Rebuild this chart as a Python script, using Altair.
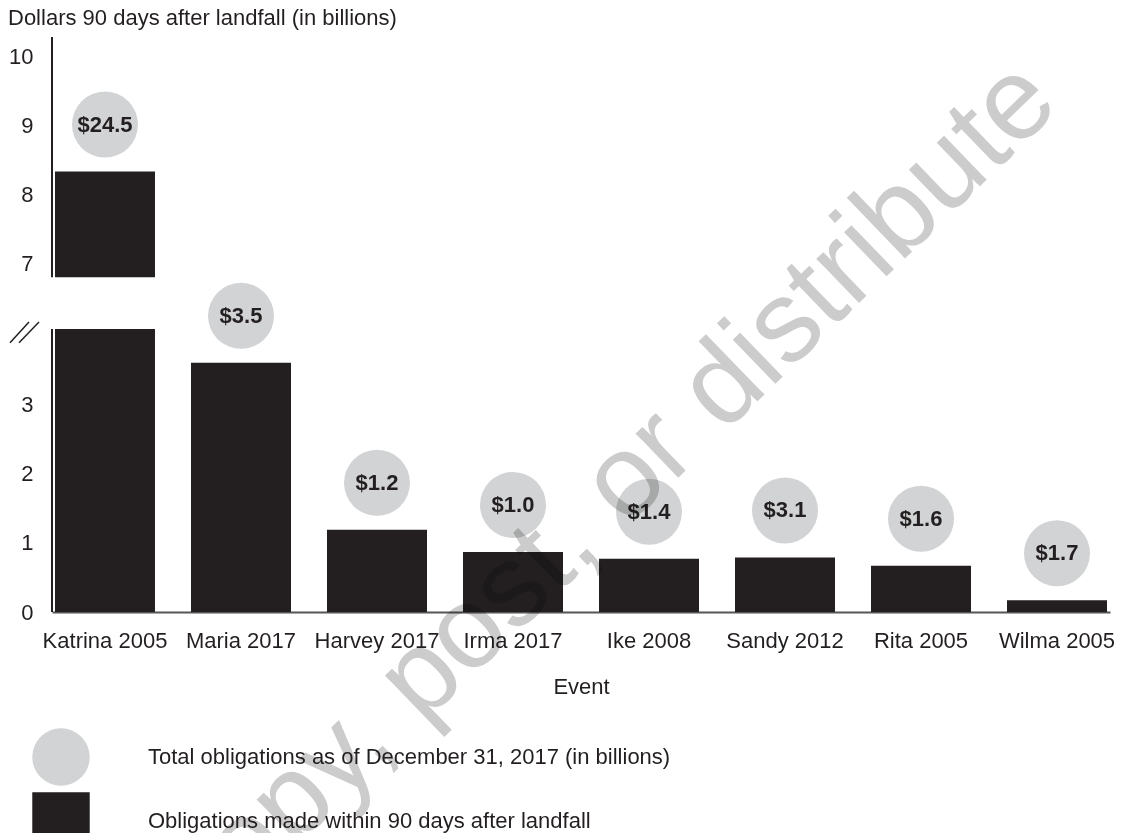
import altair as alt
import pandas as pd

# ---- data ----
events = ["Katrina 2005", "Maria 2017", "Harvey 2017", "Irma 2017",
          "Ike 2008", "Sandy 2012", "Rita 2005", "Wilma 2005"]
within_90_days = [8.33, 3.61, 1.19, 0.87, 0.77, 0.79, 0.67, 0.17]   # billions
total_obligations = [24.5, 3.5, 1.2, 1.0, 1.4, 3.1, 1.6, 1.7]       # billions
y_tick_values = [0, 1, 2, 3, 7, 8, 9, 10]

# broken axis: lower segment 0..4.1, upper segment 6.8..10.28
lower_top = 4.1
upper_bottom = 6.8
axis_top = 10.28
gap = 1.95

LEG_TOTAL = "Total obligations as of December 31, 2017 (in billions)"
LEG_90 = "Obligations made within 90 days after landfall"

INK = "#231f20"
CIRCLE = "#d1d3d4"
FONT = "Liberation Sans"


def disp(v):
    return v if v <= lower_top else v - gap


# bar segments (Katrina is split by the axis break)
seg_rows = []
for e, v in zip(events, within_90_days):
    if v > lower_top:
        seg_rows.append({"event": e, "lo": 0.0, "hi": lower_top, "kind": LEG_90})
        seg_rows.append({"event": e, "lo": disp(upper_bottom), "hi": disp(v), "kind": LEG_90})
    else:
        seg_rows.append({"event": e, "lo": 0.0, "hi": v, "kind": LEG_90})
bars_df = pd.DataFrame(seg_rows)

pts_df = pd.DataFrame({
    "event": events,
    "top": [disp(v) for v in within_90_days],
    "label": ["$" + format(t, ".1f") for t in total_obligations],
    "kind": LEG_TOTAL,
})

axis_df = pd.DataFrame({"lo": [0.0, disp(upper_bottom)], "hi": [lower_top, disp(axis_top)]})
brk_df = pd.DataFrame({"a": [lower_top - 0.2], "b": [lower_top + 0.1]})
one = pd.DataFrame({"k": [0]})

legend_def = alt.Legend(title=None, orient="none", legendX=-20, legendY=691,
                        symbolSize=3300, labelFontSize=22, labelColor=INK,
                        labelFont=FONT, labelOffset=58, rowPadding=6,
                        padding=0, symbolStrokeWidth=0, symbolOpacity=1,
                        labelLimit=800)

x_enc = alt.X("event:N", sort=events, title="Event",
              scale=alt.Scale(paddingInner=0.2647, paddingOuter=0.022))
color_enc = alt.Color("kind:N",
                      scale=alt.Scale(domain=[LEG_TOTAL, LEG_90], range=[CIRCLE, INK]),
                      legend=legend_def)
shape_enc = alt.Shape("kind:N",
                      scale=alt.Scale(domain=[LEG_TOTAL, LEG_90], range=["circle", "square"]),
                      legend=legend_def)

yscale = alt.Scale(domain=[0, disp(axis_top)], nice=False, zero=True)
y_axis = alt.Axis(values=[disp(v) for v in y_tick_values],
                  labelExpr="datum.value > 4.5 ? '' + round(datum.value + %s) : '' + round(datum.value)" % gap)

bars = alt.Chart(bars_df).mark_bar(color=INK).encode(
    x=x_enc,
    y=alt.Y("lo:Q", scale=yscale, axis=y_axis, title=None),
    y2="hi:Q",
    color=color_enc,
)

axis_lines = alt.Chart(axis_df).mark_rule(color=INK, strokeWidth=2).encode(
    x=alt.value(0),
    y=alt.Y("lo:Q", title=None),
    y2="hi:Q",
)

brk1 = alt.Chart(brk_df).mark_rule(color=INK, strokeWidth=1.5).encode(
    x=alt.value(-42), x2=alt.value(-23),
    y=alt.Y("a:Q", title=None), y2="b:Q",
)
brk2 = alt.Chart(brk_df).mark_rule(color=INK, strokeWidth=1.5).encode(
    x=alt.value(-33), x2=alt.value(-13),
    y=alt.Y("a:Q", title=None), y2="b:Q",
)

circles = alt.Chart(pts_df).mark_point(filled=True, size=4356, opacity=1, yOffset=-47).encode(
    x=x_enc,
    y=alt.Y("top:Q", title=None),
    color=color_enc,
    shape=shape_enc,
)

labels = alt.Chart(pts_df).mark_text(yOffset=-47, fontSize=22, fontWeight="bold",
                                     color=INK, font=FONT, baseline="middle").encode(
    x=x_enc,
    y=alt.Y("top:Q", title=None),
    text="label:N",
)

title_txt = alt.Chart(one).mark_text(align="left", baseline="alphabetic", fontSize=22,
                                     color=INK, font=FONT).encode(
    x=alt.value(-44), y=alt.value(-12),
    text=alt.value("Dollars 90 days after landfall (in billions)"),
)

watermark = alt.Chart(one).mark_text(align="right", baseline="alphabetic", fontSize=116,
                                     angle=316, color="#cccccc", blend="multiply",
                                     font=FONT).encode(
    x=alt.value(1010), y=alt.value(70),
    text=alt.value("Do not copy, post, or distribute"),
)

chart = alt.layer(bars, axis_lines, brk1, brk2, circles, labels, title_txt, watermark).properties(
    width=1058, height=575,
    autosize=alt.AutoSizeParams(type="none"),
    padding={"left": 44, "top": 29, "right": 5, "bottom": 221},
).configure_view(stroke=None).configure_axisX(
    labelAngle=0, ticks=False, domainColor="#555555", domainWidth=2,
    labelFontSize=22, labelColor=INK, labelFont=FONT, labelPadding=18,
    titleFontSize=22, titleFontWeight="normal", titleColor=INK, titleFont=FONT,
    titlePadding=25, grid=False,
).configure_axisY(
    domain=False, ticks=False, grid=False, labelFontSize=22, labelColor=INK,
    labelFont=FONT, labelPadding=19,
)

chart.save("out.html", embed_options={"renderer": "svg", "actions": False})
